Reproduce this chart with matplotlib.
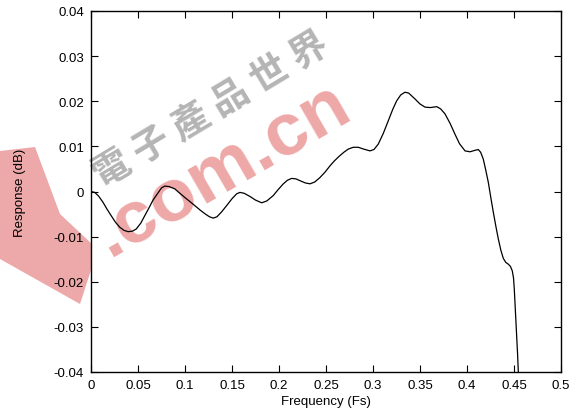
import matplotlib
matplotlib.use("Agg")
import matplotlib.pyplot as plt
from matplotlib.patches import Polygon

freq = [0.0, 0.004, 0.008, 0.0128, 0.017, 0.0216, 0.026, 0.0305, 0.035, 0.0394,
        0.044, 0.0482, 0.053, 0.0571, 0.062, 0.066, 0.071, 0.075, 0.0784, 0.083,
        0.089, 0.094, 0.0997, 0.105, 0.1103, 0.116, 0.121, 0.126, 0.1301, 0.134,
        0.139, 0.1444, 0.150, 0.155, 0.1585, 0.163, 0.1691, 0.175, 0.1816, 0.187,
        0.1939, 0.199, 0.2046, 0.209, 0.2135, 0.218, 0.2223, 0.228, 0.233, 0.238,
        0.2436, 0.249, 0.2543, 0.259, 0.264, 0.269, 0.2737, 0.279, 0.2844, 0.290,
        0.2968, 0.301, 0.3056, 0.311, 0.3163, 0.321, 0.3252, 0.3295, 0.334, 0.338,
        0.3447, 0.350, 0.3553, 0.361, 0.3678, 0.372, 0.3766, 0.382, 0.3872, 0.392,
        0.3979, 0.4032, 0.408, 0.412, 0.4145, 0.4173, 0.420, 0.4227, 0.4253, 0.428,
        0.4307, 0.4333, 0.436, 0.4386, 0.4412, 0.4439, 0.4462, 0.4482, 0.4495, 0.4503,
        0.4521, 0.4539, 0.4546, 0.4552]
resp = [0.0, -0.0002, -0.0010, -0.0024, -0.0039, -0.0054, -0.0068, -0.0079, -0.0086, -0.0089,
        -0.0088, -0.0083, -0.0070, -0.0054, -0.0035, -0.0019, -0.0004, 0.0008, 0.0012, 0.0011,
        0.0006, -0.0003, -0.0013, -0.0022, -0.0031, -0.0041, -0.0049, -0.0056, -0.0059, -0.0056,
        -0.0045, -0.0031, -0.0016, -0.0005, -0.0002, -0.0004, -0.0011, -0.0019, -0.0025, -0.0021,
        -0.0009, 0.0004, 0.0017, 0.0025, 0.0029, 0.0028, 0.0024, 0.0019, 0.0017, 0.0021,
        0.0031, 0.0043, 0.0057, 0.0068, 0.0078, 0.0087, 0.0094, 0.0098, 0.0098, 0.0094,
        0.0090, 0.0093, 0.0105, 0.0129, 0.0157, 0.0182, 0.0201, 0.0214, 0.0220, 0.0218,
        0.0205, 0.0194, 0.0187, 0.0186, 0.0188, 0.0183, 0.0172, 0.0151, 0.0127, 0.0106,
        0.0090, 0.0088, 0.0091, 0.0093, 0.0087, 0.0072, 0.0047, 0.0020, -0.0013, -0.0046,
        -0.0077, -0.0105, -0.0130, -0.0148, -0.0157, -0.0161, -0.0166, -0.0176, -0.0192, -0.0216,
        -0.0290, -0.0364, -0.0401, -0.0450]

xticks = [0, 0.05, 0.1, 0.15, 0.2, 0.25, 0.3, 0.35, 0.4, 0.45, 0.5]
xticklabels = ["0", "0.05", "0.1", "0.15", "0.2", "0.25", "0.3", "0.35", "0.4", "0.45", "0.5"]
yticks = [-0.04, -0.03, -0.02, -0.01, 0, 0.01, 0.02, 0.03, 0.04]
yticklabels = ["-0.04", "-0.03", "-0.02", "-0.01", "0", "0.01", "0.02", "0.03", "0.04"]

plt.rcParams['font.family'] = ['Liberation Sans', 'DejaVu Sans']

fig = plt.figure(figsize=(5.77, 4.14), dpi=100)
ax = fig.add_axes([91/577, 41/414, 470/577, 361/414])
ax.set_facecolor('none')
ax.plot(freq, resp, color='black', lw=0.9, solid_joinstyle='round')
ax.set_xlim(0, 0.5)
ax.set_ylim(-0.04, 0.04)
ax.set_xticks(xticks)
ax.set_xticklabels(xticklabels)
ax.set_yticks(yticks)
ax.set_yticklabels(yticklabels)
ax.tick_params(direction='in', top=True, right=True, length=5, width=0.8, labelsize=9.5, pad=5)
for s in ax.spines.values():
    s.set_linewidth(1.0)
ax.set_xlabel("Frequency (Fs)", fontsize=9.5, labelpad=3)
ax.set_ylabel("Response (dB)", fontsize=9.5, labelpad=20)

# watermark (decorative overlay, drawn beneath the axes)
wm_shape = [(0, 1 - 152/414), (35/577, 1 - 148/414), (60/577, 1 - 215/414), (92/577, 1 - 245/414),
            (92/577, 1 - 268/414), (80/577, 1 - 305/414), (0, 1 - 260/414)]
fig.patches.append(Polygon(wm_shape, closed=True, transform=fig.transFigure,
                           facecolor='#e88c8c', edgecolor='none', alpha=0.75, zorder=-2))
fig.text(0.385, 0.59, ".com.cn", fontsize=54, fontweight='bold', color='#e88a8a', alpha=0.75,
         rotation=30, ha='center', va='center', zorder=-1)
fig.text(0.365, 0.735, "電 子 產 品 世 界", fontsize=27, fontweight='bold', color='#8c8c8c', alpha=0.65,
         rotation=31, ha='center', va='center', zorder=-1,
         family=['Noto Sans CJK TC', 'DejaVu Sans'])

fig.savefig("out.png", dpi=100)
